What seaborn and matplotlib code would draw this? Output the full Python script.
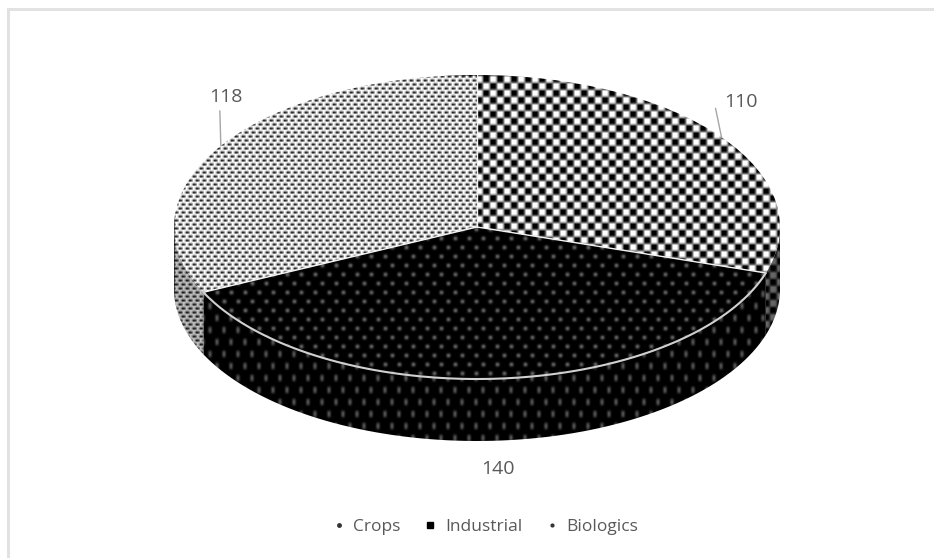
import matplotlib
matplotlib.use('Agg')
import matplotlib.pyplot as plt
import numpy as np
import seaborn as sns
from matplotlib.lines import Line2D
from matplotlib.patches import Polygon, Rectangle

categorias = ['Crops', 'Industrial', 'Biologics']
valores = [110, 140, 118]

sns.set_theme(style='white')
plt.rcParams['font.family'] = ['Open Sans', 'DejaVu Sans']

LARG, ALT = 934, 558
# elipse do topo em pixels
CX, CY, RX, RY, PROF = 477, 227, 303, 152, 62
COR_TEXTO = '#595959'


def suavizar(img, n=3):
    k = np.array([1, 2, 3, 2, 1][:n + 2], dtype=float)
    k = k / k.sum()
    img = np.apply_along_axis(lambda l: np.convolve(l, k, mode='same'), 0, img)
    return np.apply_along_axis(lambda l: np.convolve(l, k, mode='same'), 1, img)


def xadrez(h, w, lado=7):
    yy, xx = np.mgrid[0:h, 0:w]
    img = ((yy // lado + xx // lado) % 2).astype(float)
    return suavizar(img, n=2)


def pontos(h, w, px, py, claro, fundo, tam=2, tam_y=None, n=3):
    tam_y = tam_y or tam
    yy, xx = np.mgrid[0:h, 0:w]
    linha = yy // py
    desloc = (linha % 2) * (px // 2)
    marca = (((xx + desloc) % px) < tam) & ((yy % py) < tam_y)
    img = np.where(marca, claro, fundo).astype(float)
    return suavizar(img, n=n)


fig = plt.figure(figsize=(LARG / 100, ALT / 100), dpi=100)
fig.patch.set_facecolor('white')
fig.add_artist(Rectangle((8 / LARG, -0.01), 1.0, 1 - 9 / ALT + 0.01, transform=fig.transFigure,
                         facecolor='none', edgecolor='#e2e2e2', linewidth=2.2))

# eixo cobre a elipse e a parede lateral
ax_w, ax_h = 2 * RX, 2 * RY + PROF
ax = fig.add_axes([(CX - RX) / LARG, (ALT - CY - RY - PROF) / ALT, ax_w / LARG, ax_h / ALT])
ymin = -1 - PROF / RY

wedges, _ = ax.pie(valores, startangle=90, counterclock=False, radius=1,
                   colors=['none'] * 3,
                   wedgeprops=dict(edgecolor='none', zorder=3))
ax.set_aspect('auto')
ax.set_xlim(-1, 1)
ax.set_ylim(ymin, 1)
for patch in wedges:
    patch.set_clip_on(False)

h, w = ax_h, ax_w
texturas = [
    xadrez(h, w),
    pontos(h, w, 14, 9, 0.62, 0.0, tam=3),
    pontos(h, w, 7, 4, 0.0, 1.0, tam=4, tam_y=2, n=1),
]
paredes = [
    texturas[0] * 0.4,
    pontos(h, w, 14, 12, 0.55, 0.0, tam=2, tam_y=6),
    texturas[2] * 0.75,
]

# limites de cada fatia em graus, sentido horario a partir do topo
limites = np.cumsum([0] + valores) / sum(valores) * 360
for i in range(3):
    # parede lateral: so o trecho da frente (90 a 270 graus)
    ini = max(limites[i], 90)
    fim = min(limites[i + 1], 270)
    if fim > ini:
        t = np.radians(np.linspace(ini, fim, 80))
        xs, ys = np.sin(t), np.cos(t)
        verts = np.vstack([np.column_stack([xs, ys]),
                           np.column_stack([xs[::-1], ys[::-1] - PROF / RY])])
        poly = Polygon(verts, closed=True, facecolor='none', edgecolor='none', zorder=1)
        ax.add_patch(poly)
        img = ax.imshow(paredes[i], cmap='gray', vmin=0, vmax=1, extent=(-1, 1, ymin, 1),
                        aspect='auto', interpolation='nearest', zorder=0.5)
        img.set_clip_path(poly)
    # topo da fatia
    img = ax.imshow(texturas[i], cmap='gray', vmin=0, vmax=1, extent=(-1, 1, ymin, 1),
                    aspect='auto', interpolation='nearest', zorder=2)
    img.set_clip_path(wedges[i])

# emendas claras entre as fatias e arco da frente
for lim in np.radians(limites[:3]):
    ax.plot([0, np.sin(lim)], [0, np.cos(lim)], color='#f2f2f2', lw=1, zorder=4, clip_on=False)
arco = np.radians(np.linspace(limites[1], limites[2], 120))
ax.plot(np.sin(arco), np.cos(arco), color='#d0d0d0', lw=1.5, zorder=4, clip_on=False)

# rotulos no meio de cada fatia
meios = np.radians((limites[:-1] + limites[1:]) / 2)
desloc_texto = [(19, 35), (0, -90), (5, 49)]
desloc_linha = [(-6, 29), (0, 0), (-1, 35)]
for i, valor in enumerate(valores):
    xy = (np.sin(meios[i]), np.cos(meios[i]))
    if desloc_linha[i] != (0, 0):
        ax.annotate('', xy=xy, xytext=desloc_linha[i], textcoords='offset pixels',
                    arrowprops=dict(arrowstyle='-', color='#a6a6a6', lw=1, shrinkA=0, shrinkB=0),
                    annotation_clip=False)
    ax.annotate(str(valor), xy=xy, xytext=desloc_texto[i], textcoords='offset pixels',
                ha='center', va='center', fontsize=14, color=COR_TEXTO, annotation_clip=False)

marcadores = [
    Line2D([], [], linestyle='none', marker='.', color='#333333', markersize=5),
    Line2D([], [], linestyle='none', marker='s', color='black', markersize=4),
    Line2D([], [], linestyle='none', marker='.', color='#333333', markersize=4),
]
fig.legend(marcadores, categorias, loc='center', bbox_to_anchor=(485 / LARG, 1 - 527 / ALT), ncols=3,
           frameon=False, fontsize=12.5, labelcolor=COR_TEXTO, handlelength=0.8, handletextpad=0.45,
           columnspacing=1.3)

fig.savefig('out.png', dpi=100)
plt.close(fig)
